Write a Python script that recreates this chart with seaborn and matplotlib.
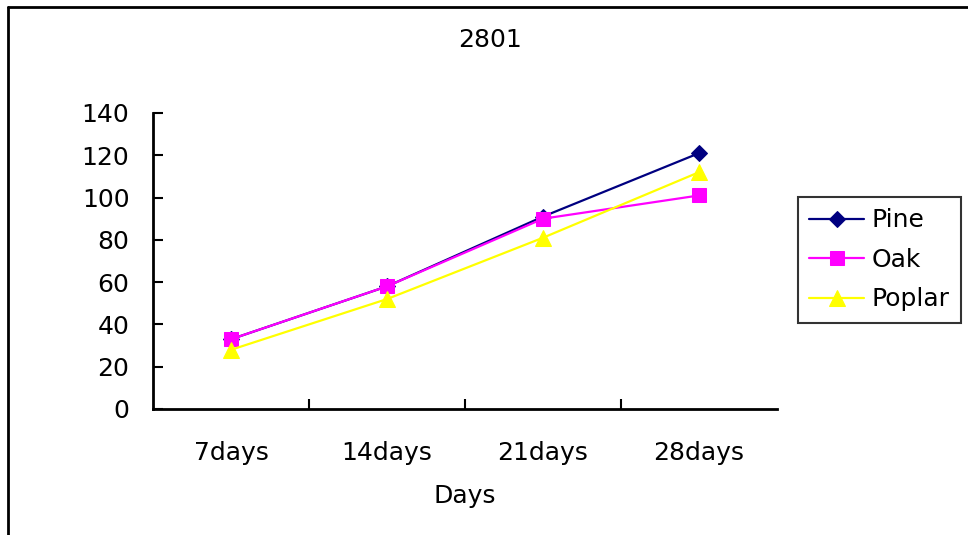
import matplotlib
matplotlib.use("Agg")
import matplotlib.pyplot as plt
from matplotlib.lines import Line2D
import seaborn as sns
import pandas as pd

# Growth readings per wood type
days = ["7days", "14days", "21days", "28days"]
pine = [33, 58, 91, 121]
oak = [33, 58, 90, 101]
poplar = [28, 52, 81, 112]
species = ["Pine", "Oak", "Poplar"]
colors = {"Pine": "#000080", "Oak": "#FF00FF", "Poplar": "#FFFF00"}
markers = {"Pine": "D", "Oak": "s", "Poplar": "^"}
msizes = {"Pine": 8, "Oak": 10, "Poplar": 11}

df = pd.DataFrame({
    "Days": days * 3,
    "pos": list(range(len(days))) * 3,
    "value": pine + oak + poplar,
    "Species": ["Pine"] * 4 + ["Oak"] * 4 + ["Poplar"] * 4,
})

sns.set_style("white")
plt.rcParams["font.family"] = ["DejaVu Sans"]
plt.rcParams["text.color"] = "black"
plt.rcParams["axes.labelcolor"] = "black"
plt.rcParams["xtick.color"] = "black"
plt.rcParams["ytick.color"] = "black"

W, H = 968, 535
fig = plt.figure(figsize=(W / 100, H / 100), dpi=100)
ax = fig.add_axes([153 / W, 1 - 409 / H, (777 - 153) / W, (409 - 113) / H])

for sp in species:
    sub = df[df["Species"] == sp]
    sns.lineplot(data=sub, x="pos", y="value", ax=ax, color=colors[sp],
                 marker=markers[sp], markersize=msizes[sp],
                 markeredgecolor=colors[sp], linewidth=1.6, label=sp)

ax.set_xlim(-0.5, len(days) - 0.5)
ax.set_ylim(0, 140)
ax.set_yticks(range(0, 141, 20))
ax.set_xticks(range(len(days)))
ax.set_xticklabels(days)
ax.set_xticks([i + 0.5 for i in range(len(days) - 1)], minor=True)
ax.tick_params(axis="x", which="major", length=0, pad=23, labelsize=18)
ax.tick_params(axis="x", which="minor", direction="in", length=7, width=1.5,
               color="black", bottom=True)
ax.tick_params(axis="y", direction="in", length=7, width=1.5, color="black",
               left=True, pad=17, labelsize=18)
ax.set_xlabel("Days", fontsize=18, labelpad=14)
ax.set_ylabel("")
for s in ["top", "right"]:
    ax.spines[s].set_visible(False)
for s in ["left", "bottom"]:
    ax.spines[s].set_color("black")
    ax.spines[s].set_linewidth(2)

fig.text(490 / W, 1 - 40 / H, "2801", ha="center", va="center", fontsize=18)

leg = ax.legend(loc="upper left", bbox_to_anchor=(798 / W, 1 - 197 / H),
                bbox_transform=fig.transFigure, fontsize=18, frameon=True,
                fancybox=False, handlelength=2.2, handletextpad=0.3,
                labelspacing=0.62, borderpad=0.45, borderaxespad=0)
leg.get_frame().set_edgecolor("black")
leg.get_frame().set_linewidth(1.5)

# outer chart border
fig.add_artist(Line2D([8 / W, 8 / W], [0, 1 - 7 / H], color="black", lw=2,
                      transform=fig.transFigure))
fig.add_artist(Line2D([8 / W, 1], [1 - 7 / H, 1 - 7 / H], color="black", lw=2,
                      transform=fig.transFigure))

fig.savefig("out.png", dpi=100)
